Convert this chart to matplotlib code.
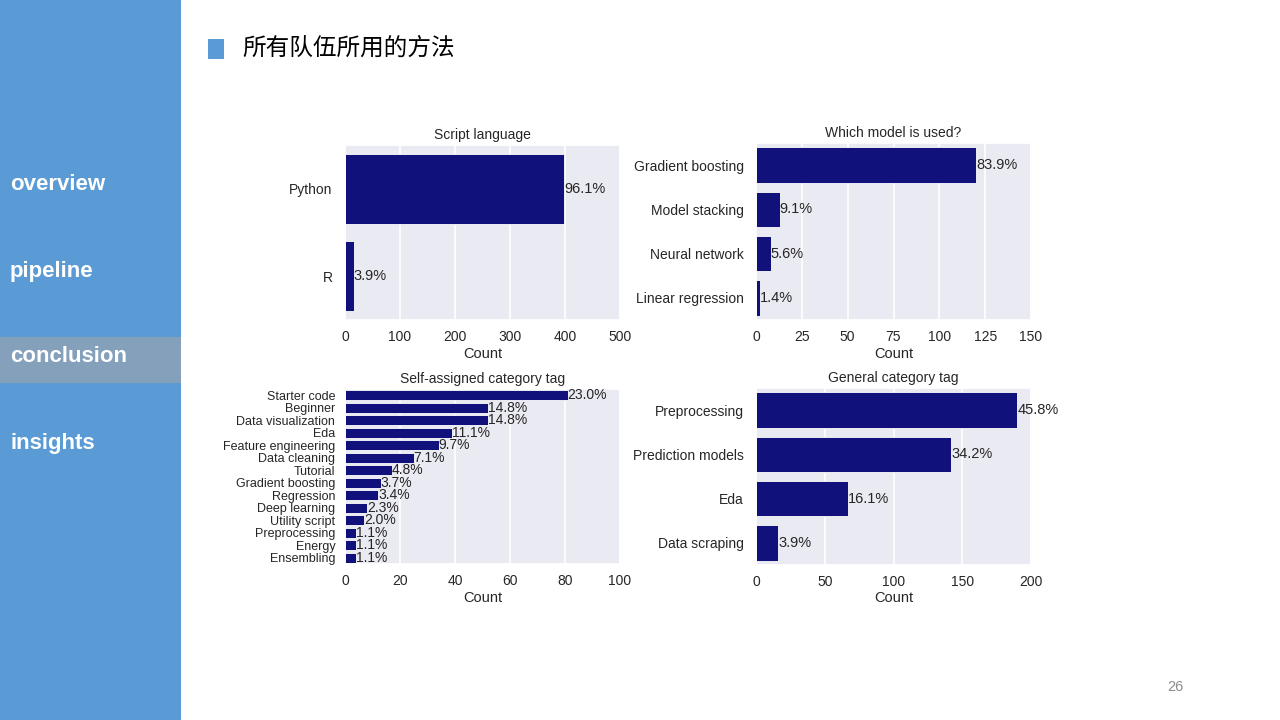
import matplotlib
matplotlib.use("Agg")
import matplotlib.pyplot as plt
from matplotlib.patches import Rectangle
import seaborn as sns

# values
lang_labels = ["Python", "R"]
lang_counts = [398, 16]

model_labels = ["Gradient boosting", "Model stacking", "Neural network", "Linear regression"]
model_counts = [120, 13, 8, 2]

tag_labels = ["Starter code", "Beginner", "Data visualization", "Eda",
              "Feature engineering", "Data cleaning", "Tutorial",
              "Gradient boosting", "Regression", "Deep learning",
              "Utility script", "Preprocessing", "Energy", "Ensembling"]
tag_counts = [81, 52, 52, 39, 34, 25, 17, 13, 12, 8, 7, 4, 4, 4]

general_labels = ["Preprocessing", "Prediction models", "Eda", "Data scraping"]
general_counts = [190, 142, 67, 16]

menu_items = ["overview", "pipeline", "conclusion", "insights"]
active_item = "conclusion"

BAR = "#11117c"
SIDEBAR = "#5b9bd5"
TXT = "#262626"

sns.set_theme(style="darkgrid")
plt.rcParams["font.family"] = ["Liberation Sans", "DejaVu Sans"]

fig = plt.figure(figsize=(12.8, 7.2), dpi=100)
W, H = 1280.0, 720.0


def px_axes(x0, y0, x1, y1):
    return fig.add_axes([x0 / W, 1 - y1 / H, (x1 - x0) / W, (y1 - y0) / H])


def draw(ax, labels, counts, xmax, xticks, title, tick_fs=10, pct_fs=10.5):
    total = float(sum(counts))
    pos = list(range(len(labels)))
    ax.barh(pos, counts, height=0.8, color=BAR, edgecolor="white", linewidth=0.6)
    ax.set_yticks(pos)
    ax.set_yticklabels(labels, fontsize=tick_fs, color=TXT)
    ax.set_ylim(len(labels) - 0.5, -0.5)
    ax.set_xlim(0, xmax)
    ax.set_xticks(xticks)
    ax.tick_params(axis="x", labelsize=10, colors=TXT, pad=1)
    ax.tick_params(axis="y", pad=3)
    ax.grid(False, axis="y")
    ax.grid(True, axis="x", color="white", linewidth=1.2)
    ax.set_xlabel("Count", fontsize=10.5, color=TXT, labelpad=2)
    ax.set_title(title, fontsize=10, color=TXT, pad=4)
    for p, c in zip(pos, counts):
        ax.text(c, p, "%.1f%%" % (100.0 * c / total), va="center", ha="left",
                fontsize=pct_fs, color=TXT)


ax1 = px_axes(345, 145, 620, 320)
draw(ax1, lang_labels, lang_counts, 500, [0, 100, 200, 300, 400, 500], "Script language")

ax2 = px_axes(756, 143, 1031, 320)
draw(ax2, model_labels, model_counts, 150, [0, 25, 50, 75, 100, 125, 150], "Which model is used?")

ax3 = px_axes(345, 389, 620, 564)
draw(ax3, tag_labels, tag_counts, 100, [0, 20, 40, 60, 80, 100],
     "Self-assigned category tag", tick_fs=9, pct_fs=10)
ax3.tick_params(axis="y", pad=1)

ax4 = px_axes(756, 388, 1031, 565)
draw(ax4, general_labels, general_counts, 200, [0, 50, 100, 150, 200], "General category tag")

# slide decoration: sidebar, menu, title, page number
fig.patches.append(Rectangle((0, 0), 181 / W, 1, transform=fig.transFigure,
                             facecolor=SIDEBAR, edgecolor="none", zorder=0))
for i, item in enumerate(menu_items):
    yc = 185 + 86 * i
    if item == active_item:
        fig.patches.append(Rectangle((0, 1 - (yc + 26) / H), 181 / W, 46 / H,
                                     transform=fig.transFigure, facecolor="#84a0bb",
                                     edgecolor="none", zorder=1))
    fig.text(10 / W, 1 - yc / H, item, color="white", fontsize=16, fontweight="bold",
             va="center", ha="left", zorder=2)

fig.patches.append(Rectangle((208 / W, 1 - 59 / H), 16 / W, 20 / H, transform=fig.transFigure,
                             facecolor=SIDEBAR, edgecolor="none"))
fig.text(242 / W, 1 - 48 / H, "所有队伍所用的方法", fontsize=17, color="black",
         family=["Noto Sans CJK SC", "DejaVu Sans"], va="center", ha="left")
fig.text(1175 / W, 1 - 687 / H, "26", fontsize=10.5, color="#8c8c8c", va="center", ha="center")

fig.savefig("out.png", dpi=100)
